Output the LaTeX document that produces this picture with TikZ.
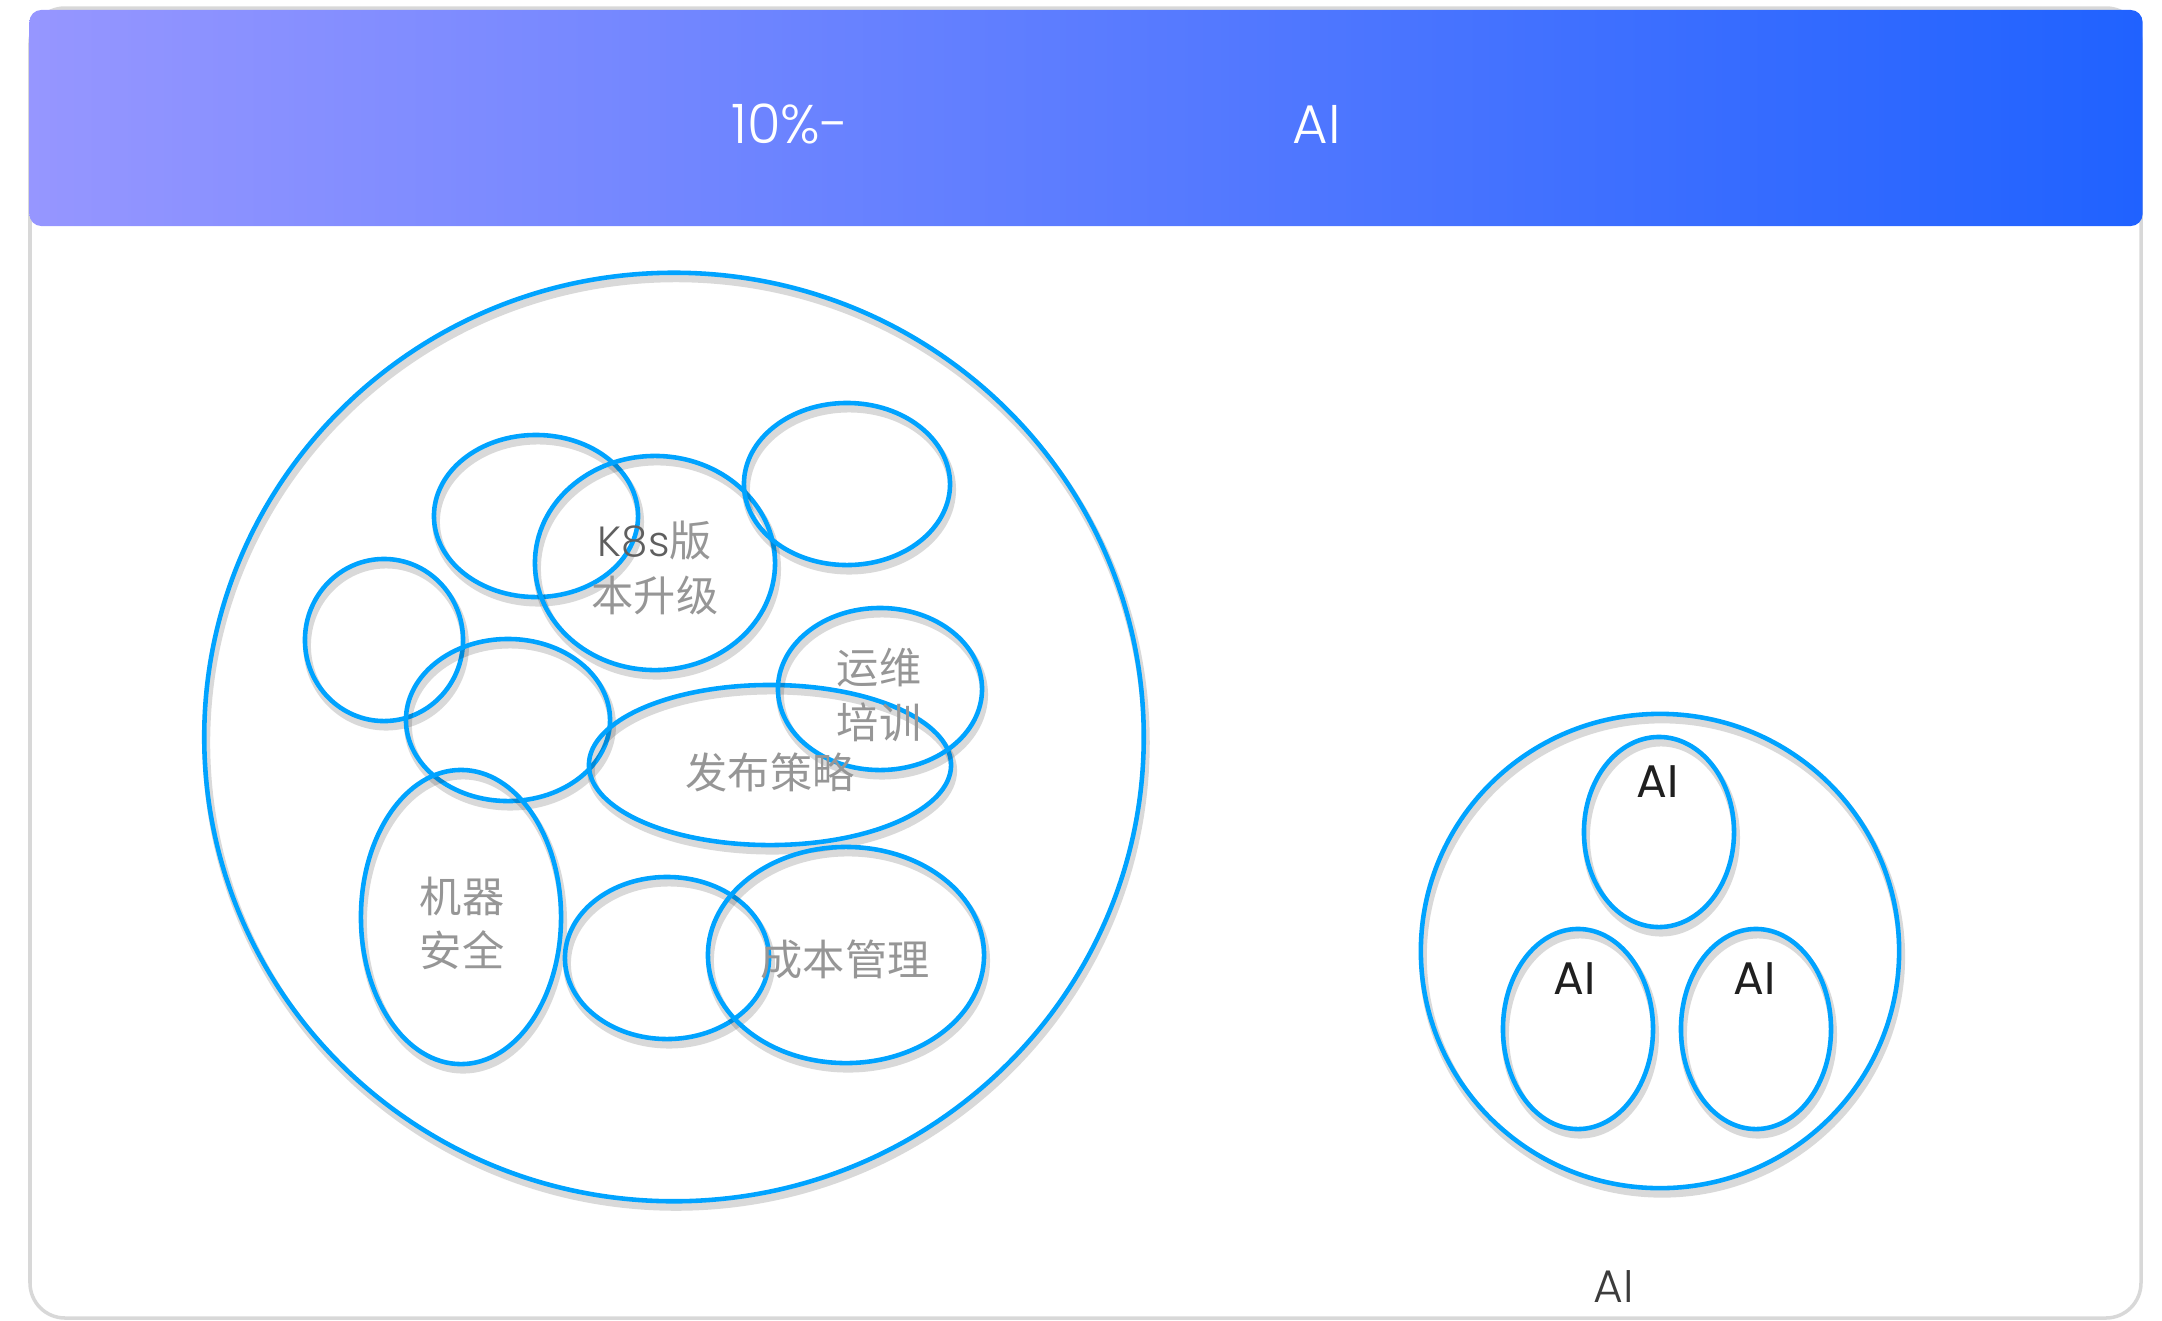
\documentclass[tikz,border=0pt]{standalone}
\usepackage{fontspec}
\setmainfont{Poppins}
\newfontfamily\thinfont{Poppins Light}
\newfontfamily\cjk{Noto Sans CJK SC}
\usepackage{xcolor}
\usepackage{tikz}
\usetikzlibrary{shapes.geometric, shadows}
\definecolor{ringblue}{RGB}{0,163,255}
\definecolor{barleft}{RGB}{150,150,255}
\definecolor{barmid}{RGB}{128,140,255}
\definecolor{barright}{RGB}{32,98,255}
\definecolor{framegray}{RGB}{216,216,216}
\definecolor{cjkgray}{RGB}{150,150,150}
\definecolor{k8sgray}{RGB}{95,95,95}
\definecolor{aigray}{RGB}{60,60,60}

\begin{document}
\begin{tikzpicture}[x=0.01cm, y=-0.01cm,
  ring/.style 2 args={ellipse, draw=ringblue, line width=1.3pt, inner sep=0pt,
    minimum width=#1, minimum height=#2,
    general shadow={draw=black, line width=2.2pt, opacity=.15,
      shadow xshift=0.6pt, shadow yshift=-1.6pt}},
  tag/.style={font=\cjk\fontsize{12}{15.4}\selectfont, text=cjkgray, align=center, inner sep=0pt},
  ai/.style={font=\fontsize{13}{15}\selectfont, text=black!88, inner sep=0pt}]

\useasboundingbox (0,0) rectangle (2162,1320);

% Frame and header
\draw[framegray, line width=1pt, rounded corners=0.35cm] (30,8) rectangle (2141,1318);
\node[rectangle, rounded corners=0.12cm, left color=barleft, middle color=barmid,
  right color=barright, minimum width=21.12cm, minimum height=2.16cm] (bar) at (1086,118) {};
\node[text=white, font=\thinfont\fontsize{15.5}{18}\selectfont] (pct) at (790,124) {10\%-};
\node[text=white, font=\thinfont\fontsize{15.5}{18}\selectfont] (aihead) at (1317,124) {AI};

% Big circle
\node[ring={9.39cm}{9.28cm}] (big) at (674,737) {};
\node[ring={2.04cm}{1.62cm}] (e1) at (536,516) {};
\node[ring={2.40cm}{2.14cm}] (k8s) at (655,563) {};
\node[ring={2.06cm}{1.62cm}] (e3) at (847,484) {};
\node[ring={1.58cm}{1.62cm}] (e4) at (384,640) {};
\node[ring={2.04cm}{1.62cm}] (e5) at (508,720) {};
\node[ring={3.62cm}{1.60cm}] (pub) at (770,765) {};
\node[ring={2.04cm}{1.62cm}] (ops) at (880,689) {};
\node[ring={2.00cm}{2.94cm}] (sec) at (461,917) {};
\node[ring={2.04cm}{1.62cm}] (e9) at (667,958) {};
\node[ring={2.76cm}{2.16cm}] (cost) at (846,955) {};

% Labels in the big circle
\node[tag] (k8sl) at (655,568) {{\thinfont\color{k8sgray}K8s}版\\本升级};
\node[tag] (opsl) at (879,695) {运维\\培训};
\node[tag] (publ) at (770,772) {发布策略};
\node[tag] (secl) at (462,923) {机器\\安全};
\node[tag] (costl) at (845,960) {成本管理};

% Small circle
\node[ring={4.78cm}{4.74cm}] (small) at (1660,951) {};
\node[ring={1.50cm}{1.90cm}] (ai1) at (1659,832) {};
\node[ring={1.50cm}{2.00cm}] (ai2) at (1578,1029) {};
\node[ring={1.50cm}{2.00cm}] (ai3) at (1756,1029) {};
\node[ai] (ai1l) at (1658,782) {AI};
\node[ai] (ai2l) at (1575,979) {AI};
\node[ai] (ai3l) at (1755,979) {AI};
\node[ai, font=\thinfont\fontsize{13}{15}\selectfont, text=aigray] (aifoot) at (1614,1287) {AI};

\end{tikzpicture}
\end{document}
